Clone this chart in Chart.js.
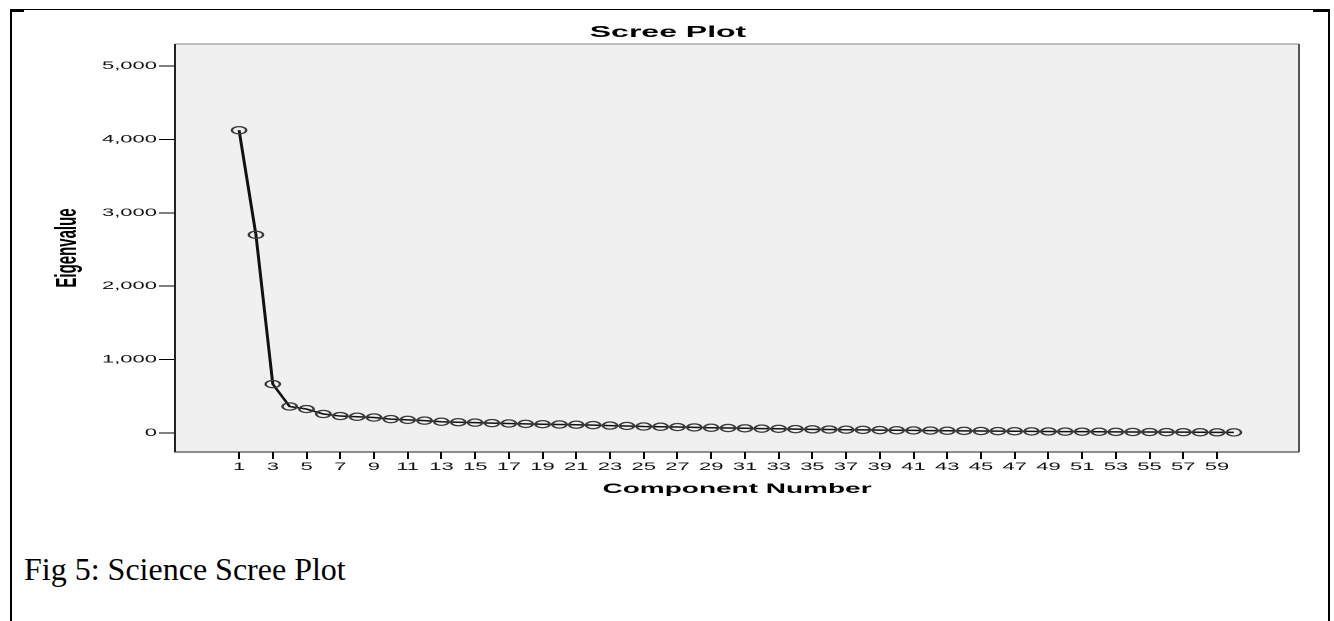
<!DOCTYPE html>
<html lang="en">
<head>
<meta charset="UTF-8">
<title>Science Scree Plot</title>
<script src="https://cdn.jsdelivr.net/npm/chart.js"></script>
<style>
  html, body { margin: 0; padding: 0; background: #fff; }
  body { width: 1334px; height: 621px; position: relative; overflow: hidden; }
  #frame { position: absolute; left: 10px; top: 9px; width: 1316px; height: 640px;
           border-top: 1px solid #000; border-left: 2px solid #000; border-right: 2px solid #000; }
  .corner { position: absolute; top: 9px; height: 3px; background: #000; }
  /* the SPSS picture is stretched sideways in the document, so the chart is drawn half width and scaled */
  #wrap { position: absolute; left: 20px; top: 12px; width: 648px; height: 488px;
          transform: scaleX(2); transform-origin: 0 0; }
  #caption { position: absolute; left: 24px; top: 553px; font-family: 'Liberation Serif', 'Times New Roman', serif;
             font-size: 32px; line-height: 1; color: #000; white-space: nowrap; }
</style>
</head>
<body>
<div id="frame"></div>
<div class="corner" style="left:10px;width:14px"></div>
<div class="corner" style="left:1313px;width:17px"></div>
<div id="wrap"><canvas id="scree" width="648" height="488"></canvas></div>
<div id="caption">Fig 5: Science Scree Plot</div>
<script>
// Component numbers and eigenvalues
const components = [1, 2, 3, 4, 5, 6, 7, 8, 9, 10, 11, 12, 13, 14, 15, 16, 17, 18, 19, 20,
    21, 22, 23, 24, 25, 26, 27, 28, 29, 30, 31, 32, 33, 34, 35, 36, 37, 38, 39, 40,
    41, 42, 43, 44, 45, 46, 47, 48, 49, 50, 51, 52, 53, 54, 55, 56, 57, 58, 59, 60];
const eigenvalues = [4125, 2700, 665, 360, 325, 258, 230, 220, 210, 188, 178, 168, 152, 146, 140, 134, 128, 123, 119, 115,
    112, 106, 100, 95, 88, 84, 80, 75, 70, 67, 63, 59, 56, 52, 49, 46, 44, 41, 38, 36,
    34, 32, 30, 28, 26, 24, 23, 21, 20, 18, 17, 16, 14, 13, 12, 11, 10, 9, 8, 7];
const xTickValues = [1, 3, 5, 7, 9, 11, 13, 15, 17, 19, 21, 23, 25, 27, 29, 31, 33, 35, 37, 39,
    41, 43, 45, 47, 49, 51, 53, 55, 57, 59];
const yTickValues = [0, 1000, 2000, 3000, 4000, 5000];

Chart.defaults.font.family = "'Liberation Sans', Arial, sans-serif";
Chart.defaults.color = '#111';

// grey plot area with its frame
const plotFrame = {
    id: 'plotFrame',
    beforeDraw(chart) {
        const {ctx, chartArea: a} = chart;
        ctx.save();
        ctx.fillStyle = '#f0f0f0';
        ctx.fillRect(a.left, a.top, a.right - a.left, a.bottom - a.top);
        ctx.restore();
    },
    afterDraw(chart) {
        const {ctx, chartArea: a} = chart;
        ctx.save();
        ctx.lineWidth = 1;
        ctx.strokeStyle = '#888';
        ctx.beginPath(); ctx.moveTo(a.left, a.top); ctx.lineTo(a.right, a.top); ctx.stroke();
        ctx.strokeStyle = '#555';
        ctx.beginPath(); ctx.moveTo(a.right, a.top); ctx.lineTo(a.right, a.bottom); ctx.stroke();
        ctx.strokeStyle = '#222';
        ctx.beginPath(); ctx.moveTo(a.left, a.top); ctx.lineTo(a.left, a.bottom); ctx.lineTo(a.right, a.bottom); ctx.stroke();
        ctx.restore();
    }
};

new Chart(document.getElementById('scree'), {
    type: 'line',
    data: {
        datasets: [{
            data: components.map((c, i) => ({x: c, y: eigenvalues[i]})),
            borderColor: '#111',
            borderWidth: 1.5,
            tension: 0,
            pointRadius: 3.6,
            pointBorderWidth: 1.25,
            pointBorderColor: '#3a3a3a',
            pointBackgroundColor: 'rgba(0,0,0,0)'
        }]
    },
    options: {
        responsive: false,
        devicePixelRatio: 2,
        animation: false,
        events: [],
        layout: { padding: 0 },
        plugins: {
            legend: { display: false },
            tooltip: { enabled: false },
            title: {
                display: true,
                text: 'Scree Plot',
                color: '#000',
                font: { size: 16, weight: 'bold', lineHeight: 1.2 },
                padding: { top: 10.9, bottom: 1.9 }
            }
        },
        scales: {
            x: {
                type: 'linear',
                min: -2.8,
                max: 63.86,
                afterBuildTicks: s => { s.ticks = xTickValues.map(v => ({value: v})); },
                afterFit: s => { s.height = 48; },
                ticks: { autoSkip: false, maxRotation: 0, padding: 1.5, font: { size: 11 }, color: '#111' },
                grid: { drawOnChartArea: false, tickLength: 7, color: '#000', lineWidth: 1 },
                border: { display: false },
                title: {
                    display: true,
                    text: 'Component Number',
                    color: '#000',
                    font: { size: 14, weight: 'bold', lineHeight: 1.2 },
                    padding: { top: 0, bottom: 2.6 }
                }
            },
            y: {
                min: -260,
                max: 5300,
                afterBuildTicks: s => { s.ticks = yTickValues.map(v => ({value: v})); },
                afterFit: s => { s.width = 77.5; },
                ticks: { padding: 1, font: { size: 11 }, color: '#111',
                         callback: v => v.toLocaleString('en-US') },
                grid: { drawOnChartArea: false, tickLength: 8, color: '#000', lineWidth: 1 },
                border: { display: false },
                title: {
                    display: true,
                    text: 'Eigenvalue',
                    color: '#000',
                    font: { size: 15, weight: 'bold', lineHeight: 1.2 },
                    padding: { top: 15, bottom: 0 }
                }
            },
            y2: {
                position: 'right',
                afterFit: s => { s.width = 8.5; },
                ticks: { display: false },
                grid: { display: false },
                border: { display: false }
            }
        }
    },
    plugins: [plotFrame]
});
</script>
</body>
</html>
